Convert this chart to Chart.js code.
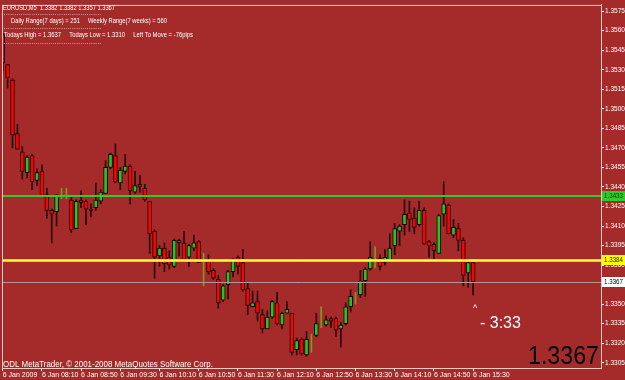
<!DOCTYPE html>
<html>
<head>
<meta charset="utf-8">
<script src="https://cdn.jsdelivr.net/npm/chart.js@4.4.1/dist/chart.umd.min.js"></script>
<style>
  html, body { margin: 0; padding: 0; background: #a52a2a; }
</style>
</head>
<body>
<canvas id="chart" width="625" height="380"></canvas>
<script>
// EURUSD M5, 6 Jan 2009 07:30 .. 15:30 (97 bars)
const opens = [
  1.3557, 1.3534, 1.3522, 1.3481, 1.3467, 1.3451, 1.3464, 1.3445, 1.3452, 1.3434,
  1.3422, 1.3421, 1.3435, 1.3433, 1.3430, 1.3408, 1.3430, 1.3429, 1.3423, 1.3424,
  1.3429, 1.3435, 1.3455, 1.3464, 1.3443, 1.3452, 1.3456, 1.3436, 1.3442, 1.3439,
  1.3429, 1.3406, 1.3387, 1.3393, 1.3386, 1.3379, 1.3399, 1.3397, 1.3386, 1.3393,
  1.3398, 1.3377, 1.3384, 1.3376, 1.3369, 1.3353, 1.3365, 1.3375, 1.3386, 1.3382,
  1.3362, 1.3348, 1.3352, 1.3342, 1.3331, 1.3340, 1.3351, 1.3334, 1.3343, 1.3343,
  1.3315, 1.3323, 1.3311, 1.3325, 1.3326, 1.3334, 1.3334, 1.3339, 1.3339, 1.3331,
  1.3335, 1.3348, 1.3357, 1.3357, 1.3368, 1.3377, 1.3386, 1.3385, 1.3382, 1.3384,
  1.3395, 1.3406, 1.3411, 1.3420, 1.3416, 1.3411, 1.3422, 1.3398, 1.3396, 1.3389,
  1.3419, 1.3426, 1.3403, 1.3408, 1.3399, 1.3374, 1.3382
];
const highs = [
  1.3558, 1.3534, 1.3523, 1.3488, 1.3471, 1.3464, 1.3465, 1.3454, 1.3457, 1.3439,
  1.3423, 1.3434, 1.3439, 1.3439, 1.3432, 1.3430, 1.3437, 1.3430, 1.3427, 1.3443,
  1.3438, 1.3460, 1.3466, 1.3473, 1.3455, 1.3465, 1.3457, 1.3452, 1.3449, 1.3442,
  1.3429, 1.3407, 1.3395, 1.3397, 1.3391, 1.3400, 1.3400, 1.3406, 1.3396, 1.3403,
  1.3399, 1.3389, 1.3388, 1.3377, 1.3372, 1.3365, 1.3376, 1.3385, 1.3387, 1.3392,
  1.3366, 1.3360, 1.3360, 1.3346, 1.3345, 1.3353, 1.3359, 1.3344, 1.3352, 1.3343,
  1.3324, 1.3324, 1.3329, 1.3327, 1.3343, 1.3348, 1.3341, 1.3340, 1.3340, 1.3336,
  1.3351, 1.3361, 1.3359, 1.3376, 1.3378, 1.3398, 1.3394, 1.3388, 1.3392, 1.3404,
  1.3412, 1.3411, 1.3430, 1.3429, 1.3424, 1.3429, 1.3424, 1.3399, 1.3397, 1.3419,
  1.3444, 1.3427, 1.3415, 1.3412, 1.3401, 1.3383, 1.3382
];
const lows = [
  1.3529, 1.3516, 1.3470, 1.3469, 1.3446, 1.3447, 1.3438, 1.3441, 1.3433, 1.3416,
  1.3397, 1.3410, 1.3431, 1.3431, 1.3405, 1.3408, 1.3424, 1.3411, 1.3417, 1.3422,
  1.3427, 1.3435, 1.3454, 1.3443, 1.3438, 1.3450, 1.3427, 1.3435, 1.3436, 1.3429,
  1.3389, 1.3370, 1.3379, 1.3375, 1.3377, 1.3378, 1.3387, 1.3384, 1.3379, 1.3391,
  1.3382, 1.3364, 1.3373, 1.3369, 1.3347, 1.3352, 1.3354, 1.3371, 1.3373, 1.3360,
  1.3342, 1.3348, 1.3337, 1.3328, 1.3331, 1.3339, 1.3334, 1.3331, 1.3343, 1.3311,
  1.3311, 1.3311, 1.3310, 1.3313, 1.3325, 1.3332, 1.3333, 1.3332, 1.3325, 1.3317,
  1.3334, 1.3344, 1.3350, 1.3355, 1.3356, 1.3376, 1.3378, 1.3376, 1.3380, 1.3384,
  1.3388, 1.3395, 1.3403, 1.3406, 1.3404, 1.3410, 1.3396, 1.3386, 1.3385, 1.3389,
  1.3410, 1.3404, 1.3401, 1.3391, 1.3364, 1.3363, 1.3357
];
const closes = [
  1.3535, 1.3524, 1.3480, 1.3469, 1.3452, 1.3463, 1.3444, 1.3451, 1.3433, 1.3422,
  1.3419, 1.3434, 1.3435, 1.3433, 1.3407, 1.3429, 1.3428, 1.3423, 1.3422, 1.3430,
  1.3436, 1.3455, 1.3465, 1.3444, 1.3453, 1.3456, 1.3437, 1.3441, 1.3440, 1.3430,
  1.3404, 1.3386, 1.3393, 1.3381, 1.3380, 1.3399, 1.3397, 1.3384, 1.3395, 1.3397,
  1.3382, 1.3377, 1.3375, 1.3370, 1.3351, 1.3364, 1.3375, 1.3384, 1.3379, 1.3361,
  1.3349, 1.3351, 1.3343, 1.3331, 1.3340, 1.3352, 1.3335, 1.3343, 1.3346, 1.3313,
  1.3322, 1.3312, 1.3323, 1.3325, 1.3335, 1.3334, 1.3338, 1.3337, 1.3330, 1.3334,
  1.3348, 1.3356, 1.3357, 1.3368, 1.3377, 1.3386, 1.3386, 1.3379, 1.3386, 1.3393,
  1.3408, 1.3410, 1.3419, 1.3415, 1.3409, 1.3422, 1.3396, 1.3395, 1.3391, 1.3418,
  1.3427, 1.3404, 1.3409, 1.3399, 1.3372, 1.3382, 1.3367
];

const timeTickBars = [0, 8, 16, 24, 32, 40, 48, 56, 64, 72, 80, 88, 96];
const timeLabels = ["6 Jan 2009", "6 Jan 08:10", "6 Jan 08:50", "6 Jan 09:30", "6 Jan 10:10",
  "6 Jan 10:50", "6 Jan 11:30", "6 Jan 12:10", "6 Jan 12:50", "6 Jan 13:30",
  "6 Jan 14:10", "6 Jan 14:50", "6 Jan 15:30"];
const priceTicks = ["1.3575", "1.3560", "1.3545", "1.3530", "1.3515", "1.3500", "1.3485",
  "1.3470", "1.3455", "1.3440", "1.3425", "1.3410", "1.3395", "1.3380", "1.3365",
  "1.3350", "1.3335", "1.3320", "1.3305"];

const greenLevel = 1.3433;
const yellowLevel = 1.3384;
const bidLevel = 1.3367;

const bg = "#a52a2a";
const frameColor = "#f0c8c8";

const bodyColors = opens.map((o, i) => o === closes[i] ? "#7d9a2a" : (closes[i] > o ? "#22c822" : "#ff0000"));
const wickColors = opens.map((o, i) => o === closes[i] ? "#7d9a2a" : "#2a0505");

const last = opens.length - 1;

const mtPlugin = {
    id: "mt",
    beforeDraw(chart) {
        const ctx = chart.ctx;
        ctx.save();
        ctx.fillStyle = bg;
        ctx.fillRect(0, 0, chart.width, chart.height);
        ctx.restore();
    },
    afterDatasetsDraw(chart) {
        const ctx = chart.ctx;
        const a = chart.chartArea;
        const y = chart.scales.y;
        ctx.save();
        ctx.beginPath();
        ctx.rect(a.left, a.top, a.right - a.left, a.bottom - a.top);
        ctx.clip();

        // bid line
        let py = Math.round(y.getPixelForValue(bidLevel)) + 0.5;
        ctx.strokeStyle = "#b49696";
        ctx.lineWidth = 1;
        ctx.beginPath(); ctx.moveTo(a.left, py); ctx.lineTo(a.right, py); ctx.stroke();

        // green level
        py = Math.round(y.getPixelForValue(greenLevel));
        ctx.strokeStyle = "#2ecc2e";
        ctx.lineWidth = 2;
        ctx.beginPath(); ctx.moveTo(a.left, py); ctx.lineTo(a.right, py); ctx.stroke();

        // yellow level
        py = Math.round(y.getPixelForValue(yellowLevel)) + 0.5;
        ctx.strokeStyle = "#e8d800";
        ctx.lineWidth = 3;
        ctx.beginPath(); ctx.moveTo(a.left, py); ctx.lineTo(a.right, py); ctx.stroke();
        ctx.strokeStyle = "#ffff40";
        ctx.lineWidth = 1;
        ctx.beginPath(); ctx.moveTo(a.left, py); ctx.lineTo(a.right, py); ctx.stroke();
        ctx.restore();
    },
    afterDraw(chart) {
        const ctx = chart.ctx;
        const a = chart.chartArea;
        const y = chart.scales.y;
        ctx.save();

        // frame
        ctx.strokeStyle = frameColor;
        ctx.lineWidth = 1;
        ctx.strokeRect(a.left + 0.5, a.top + 0.5, a.right - a.left, a.bottom - a.top);

        // price boxes on the right axis
        const box = (level, fill, txtColor) => {
            const py = Math.round(y.getPixelForValue(level));
            ctx.fillStyle = fill;
            ctx.fillRect(a.right + 1, py - 5, 23, 10);
            ctx.fillStyle = txtColor;
            ctx.font = "7px 'Liberation Sans'";
            ctx.textBaseline = "middle";
            ctx.textAlign = "left";
            ctx.fillText(level.toFixed(4), a.right + 3, py + 0.5, 19);
        };
        box(greenLevel, "#2ecc2e", "#103010");
        box(yellowLevel, "#ffff00", "#202000");
        box(bidLevel, "#ffffff", "#000000");

        // info text
        ctx.fillStyle = "#ffffff";
        ctx.textAlign = "left";
        ctx.textBaseline = "alphabetic";
        ctx.font = "8px 'Liberation Sans'";
        const dash = "- - - - - - - - - - - - - - - - - - - - - - - - - - - - - - - - - - - - - - - - - - - - - -";
        ctx.fillText("EURUSD,M5  " + opens[last].toFixed(4) + " " + highs[last].toFixed(4) + " " +
            lows[last].toFixed(4) + " " + closes[last].toFixed(4), 3, 10, 112);
        ctx.fillText(dash, 4, 15.5, 97);
        ctx.fillText("Daily Range(7 days) = 251     Weekly Range(7 weeks) = 560", 11, 23, 156);
        ctx.fillText(dash, 4, 29.5, 97);
        ctx.fillText("Todays High = 1.3637     Todays Low = 1.3310     Left To Move = -76pips", 4, 37, 189);
        ctx.fillText(dash, 4, 44.5, 97);

        // bar timer
        ctx.font = "9px 'Liberation Sans'";
        ctx.fillText("^", 473, 311);
        ctx.font = "16px 'Liberation Sans'";
        ctx.fillText("- 3:33", 480, 328, 48);

        // copyright
        ctx.font = "8.5px 'Liberation Sans'";
        ctx.fillText("ODL MetaTrader, \u00a9 2001-2008 MetaQuotes Software Corp.", 3, 367, 210);

        // big price
        ctx.fillStyle = "#000000";
        ctx.font = "26px 'Liberation Sans'";
        ctx.fillText(closes[last].toFixed(4), 528, 364, 71);
        ctx.restore();
    }
};

new Chart(document.getElementById("chart"), {
    type: "bar",
    data: {
        datasets: [{
            label: "body",
            data: opens.map((o, i) => ({ x: i, y: [o, closes[i]] })),
            backgroundColor: bodyColors,
            borderColor: "#1a0000",
            borderWidth: 1,
            borderSkipped: false,
            barThickness: 4,
            grouped: false,
            order: 0
        }, {
            label: "wick",
            data: lows.map((l, i) => ({ x: i, y: [l, highs[i]] })),
            backgroundColor: wickColors,
            barThickness: 1,
            grouped: false,
            order: 1
        }]
    },
    options: {
        responsive: false,
        animation: false,
        devicePixelRatio: 1,
        layout: { padding: { left: 2, top: 1, right: 0, bottom: 0 } },
        plugins: { legend: { display: false }, tooltip: { enabled: false } },
        scales: {
            x: {
                type: "linear",
                offset: false,
                min: -0.143,
                max: 122.1,
                afterFit(s) { s.height = 12; },
                afterBuildTicks(s) { s.ticks = timeTickBars.map(v => ({ value: v })); },
                ticks: {
                    autoSkip: false,
                    maxRotation: 0,
                    align: "start",
                    padding: 0,
                    color: "#ffffff",
                    font: { size: 7, family: "'Liberation Sans'" },
                    callback: v => timeLabels[timeTickBars.indexOf(v)]
                },
                grid: { offset: false, drawOnChartArea: false, tickLength: 3, color: "#ffffff" },
                border: { color: frameColor }
            },
            y: {
                position: "right",
                min: 1.330097,
                max: 1.357979,
                afterFit(s) { s.width = 24; },
                afterBuildTicks(s) { s.ticks = priceTicks.map(t => ({ value: parseFloat(t) })); },
                ticks: {
                    color: "#ffffff",
                    padding: 1,
                    font: { size: 6.5, family: "'Liberation Sans'" },
                    callback: v => v.toFixed(4)
                },
                grid: { drawOnChartArea: false, tickLength: 3, color: "#ffffff" },
                border: { color: frameColor }
            }
        }
    },
    plugins: [mtPlugin]
});
</script>
</body>
</html>
